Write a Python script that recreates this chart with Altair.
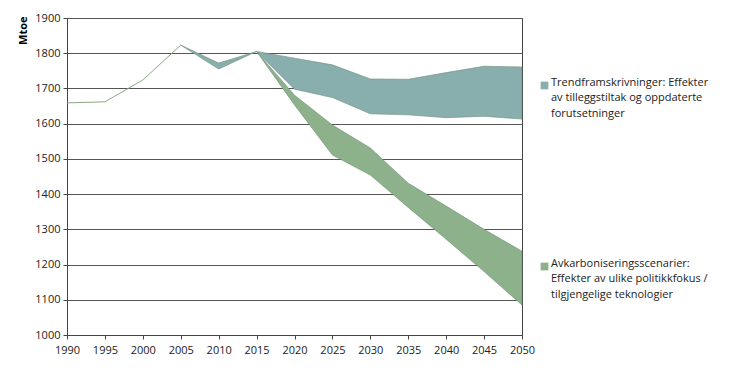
import altair as alt
import pandas as pd

hist_years = [1990, 1995, 2000, 2005]
hist_vals = [1659, 1662, 1724, 1823]

trend_years = [2005, 2010, 2015, 2020, 2025, 2030, 2035, 2040, 2045, 2050]
trend_hi = [1823, 1772, 1805, 1786, 1767, 1727, 1726, 1745, 1763, 1761]
trend_lo = [1823, 1755, 1805, 1698, 1674, 1628, 1625, 1617, 1621, 1613]

dec_years = [2015, 2020, 2025, 2030, 2035, 2040, 2045, 2050]
dec_hi = [1805, 1681, 1596, 1531, 1431, 1366, 1300, 1238]
dec_lo = [1805, 1653, 1511, 1454, 1362, 1272, 1180, 1085]

s1 = "Trendframskrivninger: Effekter|av tilleggstiltak og oppdaterte|forutsetninger"
s2 = "Avkarboniseringsscenarier:|Effekter av ulike politikkfokus /|tilgjengelige teknologier"

hist = pd.DataFrame({"year": hist_years, "v": hist_vals})
bands = pd.concat([
    pd.DataFrame({"year": trend_years, "lo": trend_lo, "hi": trend_hi, "s": s1}),
    pd.DataFrame({"year": dec_years, "lo": dec_lo, "hi": dec_hi, "s": s2}),
])

FONT = "Open Sans"
xscale = alt.Scale(domain=[1990, 2050], nice=False)
xaxis = alt.Axis(values=list(range(1990, 2051, 5)), format="d", title=None,
                 grid=False, tickColor="#444", domainColor="#444",
                 labelColor="#222", labelFontSize=11, labelFont=FONT, tickSize=4,
                 labelPadding=5, labelOverlap=False, labelFlush=False)
yscale = alt.Scale(domain=[1000, 1900], nice=False)
yaxis = alt.Axis(values=list(range(1000, 1901, 100)), format="d", title="Mtoe",
                 titleFont=FONT, titleFontSize=11, titleFontWeight="bold",
                 titleAngle=270, titleX=-44, titleY=-2,
                 titleBaseline="middle", titleAlign="right",
                 gridColor="#555", gridWidth=1, tickColor="#444", domainColor="#444",
                 labelColor="#222", labelFontSize=11, labelFont=FONT, tickSize=4,
                 labelPadding=3, labelOverlap=False, labelFlush=False)

area = alt.Chart(bands).mark_area(strokeWidth=0.6, stroke="#6f8f78", opacity=1).encode(
    x=alt.X("year:Q", scale=xscale, axis=xaxis),
    y=alt.Y("lo:Q", scale=yscale, axis=yaxis),
    y2="hi:Q",
    color=alt.Color("s:N", scale=alt.Scale(domain=[s1, s2], range=["#88aeae", "#8db18a"]),
                    legend=alt.Legend(title=None, orient="none", legendX=472, legendY=62,
                                      symbolType="square", symbolSize=60, symbolStrokeWidth=0,
                                      labelExpr="split(datum.label, '|')",
                                      labelFont=FONT, labelFontSize=11, labelColor="#222",
                                      labelLimit=300, rowPadding=138, labelOffset=1,
                                      labelBaseline="alphabetic", symbolOffset=0)),
    detail="s:N",
)

line = alt.Chart(hist).mark_line(color="#8aa882", strokeWidth=1).encode(
    x=alt.X("year:Q", scale=xscale, axis=xaxis),
    y=alt.Y("v:Q", scale=yscale, axis=yaxis),
)

chart = alt.layer(area, line).properties(
    width=455, height=317,
    autosize=alt.AutoSizeParams(type="none"),
    padding={"left": 59, "top": 10, "right": 200, "bottom": 25},
).configure(
    background="white",
    view={"stroke": "#444", "strokeWidth": 1},
    style={"guide-label": {"lineHeight": 15.5}},
)

chart.save("out.html", embed_options={"renderer": "svg", "actions": False})
